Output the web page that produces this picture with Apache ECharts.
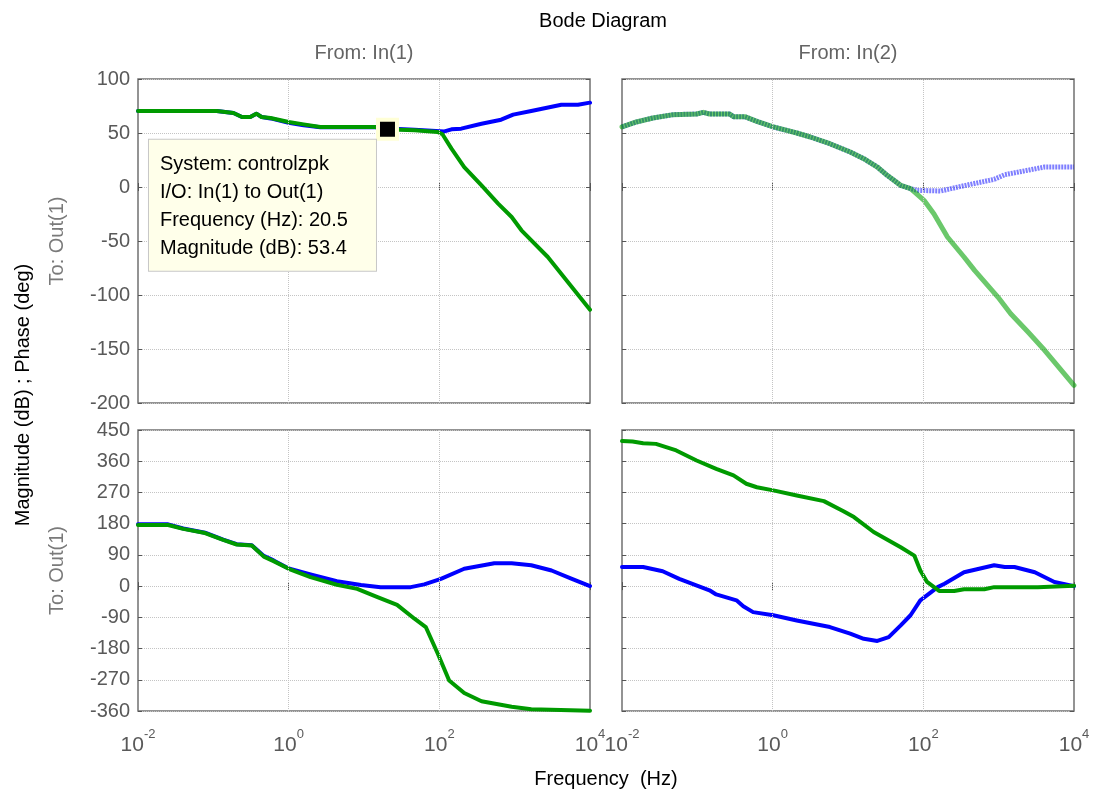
<!DOCTYPE html>
<html>
<head>
<meta charset="utf-8">
<title>Bode Diagram</title>
<script src="https://cdn.jsdelivr.net/npm/echarts@6/dist/echarts.min.js"></script>
<style>
  html, body { margin: 0; padding: 0; background: #ffffff; }
  #chart { width: 1097px; height: 796px; }
</style>
</head>
<body>
<div id="chart"></div>
<script>
// ---- Response data (frequency in Hz) ----
// Magnitude (dB), input 1 -> output 1
const magIn1GreenFreq = [0.01, 0.111, 0.185, 0.240, 0.309, 0.372, 0.437, 0.575, 1.0, 1.58, 2.63, 14, 20.5, 30, 47, 95, 110, 145, 214, 363, 603, 912, 1230, 2754, 10000];
const magIn1Green     = [70.4, 70.4, 68.5, 64.8, 64.8, 67.9, 64.8, 63.9, 60.2, 58, 55.6, 55.5, 53.4, 53.0, 52.5, 50.9, 48.8, 35.5, 18.5, 1.5, -15.4, -27.8, -40.1, -64.8, -113.6];
const magIn1BlueFreq  = [0.01, 0.111, 0.185, 0.240, 0.309, 0.372, 0.437, 0.575, 1.0, 1.58, 2.63, 14, 20.5, 47, 117, 145, 195, 363, 661, 955, 1660, 4169, 6918, 10000];
const magIn1Blue      = [70.4, 70.4, 68.5, 64.8, 64.8, 67.9, 64.8, 63.5, 59.5, 57.2, 55.4, 55.5, 54.2, 53.1, 51.5, 53.4, 54, 58.6, 62.3, 67, 70.4, 76.2, 76.2, 78.1];

// Magnitude (dB), input 2 -> output 1
const magIn2BlueFreq  = [0.01, 0.0155, 0.0257, 0.0479, 0.0977, 0.120, 0.145, 0.269, 0.302, 0.427, 0.617, 1.02, 2.09, 3.16, 5.75, 10.7, 16.2, 24.5, 33.1, 50.1, 67.6, 83.2, 170, 316, 871, 1202, 4074, 10000];
const magIn2Blue      = [55.6, 60.2, 63.9, 67, 67.6, 69.1, 67.6, 67.6, 65.1, 65.1, 60.8, 55.6, 50, 46.3, 40.1, 32.4, 26.2, 18.5, 10.8, 1.5, -1.5, -3.1, -3.7, 0.6, 7.1, 11.4, 18.5, 18.5];
const magIn2GreenFreq = [0.01, 0.0155, 0.0257, 0.0479, 0.0977, 0.120, 0.145, 0.269, 0.302, 0.427, 0.617, 1.02, 2.09, 3.16, 5.75, 10.7, 16.2, 24.5, 33.1, 50.1, 67.6, 79.4, 102, 138, 209, 347, 479, 977, 1445, 2455, 4074, 10000];
const magIn2Green     = [55.6, 60.2, 63.9, 67, 67.6, 69.1, 67.6, 67.6, 65.1, 65.1, 60.8, 55.6, 50, 46.3, 40.1, 32.4, 26.2, 18.5, 10.8, 1.5, -1.5, -5.6, -12.3, -24.7, -46.3, -64.8, -77.2, -101.9, -117.3, -134.3, -151.2, -183.6];

// Phase (deg), input 1 -> output 1
const phaseIn1GreenFreq = [0.01, 0.0251, 0.0398, 0.0776, 0.135, 0.204, 0.324, 0.468, 0.631, 1.0, 1.95, 4.37, 8.13, 15.1, 27.5, 46.8, 66.1, 95.5, 135, 214, 363, 912, 1660, 10000];
const phaseIn1Green     = [176, 176, 165, 153, 133, 120, 117, 85, 72, 50, 26, 4, -8, -32, -54, -94, -118, -195, -272, -308, -332, -348, -355, -359];
const phaseIn1BlueFreq  = [0.01, 0.0251, 0.0398, 0.0776, 0.135, 0.204, 0.324, 0.468, 0.631, 1.0, 1.95, 4.37, 9.12, 16.6, 41.7, 63.1, 105, 214, 537, 912, 1660, 3090, 5754, 10000];
const phaseIn1Blue      = [178, 178, 166, 154, 134, 121, 118, 87, 74, 51, 34, 14, 3, -3, -3, 5, 21, 50, 66, 66, 60, 45, 21, 0];

// Phase (deg), input 2 -> output 1
const phaseIn2GreenFreq = [0.01, 0.0138, 0.0191, 0.0282, 0.0525, 0.0977, 0.178, 0.302, 0.447, 0.617, 1.02, 2.09, 4.79, 8.71, 12.0, 21.9, 50.1, 75.9, 91.2, 112, 162, 257, 347, 646, 871, 3311, 10000];
const phaseIn2Green     = [418, 417, 412, 410, 391, 362, 338, 319, 295, 285, 276, 261, 245, 216, 199, 156, 112, 88, 45, 12, -14, -14, -9, -9, -3, -3, 1];
const phaseIn2BlueFreq  = [0.01, 0.0191, 0.0347, 0.0575, 0.145, 0.178, 0.331, 0.407, 0.550, 1.02, 2.09, 5.75, 10.7, 16.2, 24.5, 34.7, 50.1, 67.6, 91.2, 155, 191, 347, 871, 1202, 1622, 3020, 5495, 10000];
const phaseIn2Blue      = [55, 55, 43, 21, -12, -24, -41, -58, -75, -84, -99, -118, -137, -152, -158, -147, -113, -84, -41, -3, 7, 40, 60, 55, 55, 40, 12, 0];

// Data tip on the In(1) magnitude trace
const datatipFreq = 20.5;
const datatipMag = 53.4;

// Axis ticks
const freqTicks = [0.01, 1, 100, 10000];
const freqGridLines = [1, 100];
const inputNames = ['From: In(1)', 'From: In(2)'];
const outputName = 'To: Out(1)';

// ---- Chart setup ----
const FONT = '"Liberation Sans", Arial, Helvetica, sans-serif';
const BLUE = '#0000ff';
const GREEN = '#009a00';
const GRID_LINE = { color: '#c4c4c4', type: 'dotted', width: 1 };

const pairs = (xs, ys) => xs.map((x, i) => [x, ys[i]]);

const gridBoxes = [
  { left: 138, top: 79, width: 452, height: 324 },
  { left: 622, top: 79, width: 452, height: 324 },
  { left: 138, top: 430, width: 452, height: 281 },
  { left: 622, top: 430, width: 452, height: 281 }
];

const yRanges = [
  { min: -200, max: 100, interval: 50 },
  { min: -200, max: 100, interval: 50 },
  { min: -360, max: 450, interval: 90 },
  { min: -360, max: 450, interval: 90 }
];

const tickStyle = { show: true, inside: true, length: 4, lineStyle: { color: '#555', width: 1 } };

const grid = gridBoxes.map(b => Object.assign({
  show: true, borderColor: '#707070', borderWidth: 1.5, backgroundColor: '#fff', containLabel: false
}, b));

const xAxis = [];
const yAxis = [];
for (let i = 0; i < 4; i++) {
  const showLabels = i >= 2;
  xAxis.push({
    type: 'log', logBase: 10, gridIndex: i, min: 0.01, max: 10000, position: 'bottom',
    axisLine: { show: false },
    axisTick: Object.assign({ customValues: freqTicks }, tickStyle),
    splitLine: { show: false },
    axisLabel: {
      show: showLabels, customValues: freqTicks, margin: 13,
      formatter: v => '{b|10}{e|' + Math.round(Math.log10(v)) + '}',
      rich: {
        b: { fontFamily: FONT, fontSize: 21, color: '#595959', lineHeight: 32, verticalAlign: 'bottom' },
        e: { fontFamily: FONT, fontSize: 13, color: '#595959', lineHeight: 14, verticalAlign: 'top', padding: [4, 0, 0, 0] }
      }
    }
  });
}
for (let i = 0; i < 4; i++) {
  const isTop = i < 2;
  xAxis.push({
    type: 'log', logBase: 10, gridIndex: i, min: 0.01, max: 10000, position: 'top',
    name: isTop ? inputNames[i] : '', nameLocation: 'middle', nameGap: 16,
    nameTextStyle: { fontFamily: FONT, fontSize: 20, color: '#646464' },
    axisLine: { show: false },
    axisTick: Object.assign({ customValues: freqTicks }, tickStyle),
    splitLine: { show: false },
    axisLabel: { show: false }
  });
}
for (let i = 0; i < 4; i++) {
  const isLeftCol = i % 2 === 0;
  yAxis.push(Object.assign({
    type: 'value', gridIndex: i, position: 'left',
    name: isLeftCol ? outputName : '', nameLocation: 'middle', nameGap: 71,
    nameTextStyle: { fontFamily: FONT, fontSize: 20, color: '#7a7a7a' },
    axisLine: { show: false },
    axisTick: tickStyle,
    splitLine: { show: true, lineStyle: GRID_LINE },
    axisLabel: { show: isLeftCol, margin: 8, fontFamily: FONT, fontSize: 20, color: '#595959' }
  }, yRanges[i]));
}
for (let i = 0; i < 4; i++) {
  yAxis.push(Object.assign({
    type: 'value', gridIndex: i, position: 'right',
    axisLine: { show: false },
    axisTick: tickStyle,
    splitLine: { show: false },
    axisLabel: { show: false }
  }, yRanges[i]));
}

function trace(idx, xs, ys, color, width, withGrid, dash) {
  const s = {
    type: 'line', xAxisIndex: idx, yAxisIndex: idx,
    data: pairs(xs, ys), showSymbol: false, symbol: 'none',
    lineStyle: { color: color, width: width, type: dash || 'solid', cap: dash ? 'butt' : 'round', join: 'round' },
    itemStyle: { color: color }, silent: true, animation: false, z: 3
  };
  if (withGrid) {
    s.markLine = {
      silent: true, symbol: ['none', 'none'], label: { show: false }, animation: false,
      lineStyle: GRID_LINE, emphasis: { disabled: true },
      data: freqGridLines.map(f => ({ xAxis: f }))
    };
  }
  return s;
}

const series = [
  trace(0, magIn1BlueFreq, magIn1Blue, BLUE, 4, true),
  trace(0, magIn1GreenFreq, magIn1Green, GREEN, 4, false),
  trace(1, magIn2BlueFreq, magIn2Blue, 'rgba(0,0,255,0.5)', 5, true, [2, 1]),
  trace(1, magIn2GreenFreq, magIn2Green, 'rgba(0,160,0,0.58)', 5, false),
  trace(2, phaseIn1BlueFreq, phaseIn1Blue, BLUE, 4, true),
  trace(2, phaseIn1GreenFreq, phaseIn1Green, GREEN, 4, false),
  trace(3, phaseIn2BlueFreq, phaseIn2Blue, BLUE, 4, true),
  trace(3, phaseIn2GreenFreq, phaseIn2Green, GREEN, 4, false),
  {
    type: 'scatter', xAxisIndex: 0, yAxisIndex: 0, z: 10, animation: false, silent: true,
    data: [[datatipFreq, datatipMag]],
    symbol: 'rect', symbolSize: 19,
    itemStyle: { color: '#000', borderColor: '#ffffd6', borderWidth: 4, opacity: 1 },
    label: {
      show: true, position: [-227, 22], align: 'left', verticalAlign: 'top',
      formatter: p => [
        'System: controlzpk',
        'I/O: In(1) to Out(1)',
        'Frequency (Hz): ' + p.value[0],
        'Magnitude (dB): ' + p.value[1]
      ].join('\n'),
      fontFamily: FONT, fontSize: 20, lineHeight: 28, color: '#000',
      backgroundColor: '#ffffea', borderColor: '#c8c8c8', borderWidth: 1,
      padding: [11, 11, 8, 11], width: 205
    }
  }
];

const option = {
  backgroundColor: '#ffffff',
  animation: false,
  grid: grid,
  xAxis: xAxis,
  yAxis: yAxis,
  series: series,
  graphic: [
    { type: 'text', x: 603, y: 21, style: { text: 'Bode Diagram', font: '20px ' + FONT, fill: '#000', align: 'center', verticalAlign: 'middle' } },
    { type: 'text', x: 606, y: 779, style: { text: 'Frequency  (Hz)', font: '20px ' + FONT, fill: '#000', align: 'center', verticalAlign: 'middle' } },
    { type: 'text', x: 23, y: 395, rotation: Math.PI / 2, style: { text: 'Magnitude (dB) ; Phase (deg)', font: '20px ' + FONT, fill: '#000', align: 'center', verticalAlign: 'middle' } }
  ]
};

const chart = echarts.init(document.getElementById('chart'), null, { renderer: 'canvas' });
chart.setOption(option);
</script>
</body>
</html>
